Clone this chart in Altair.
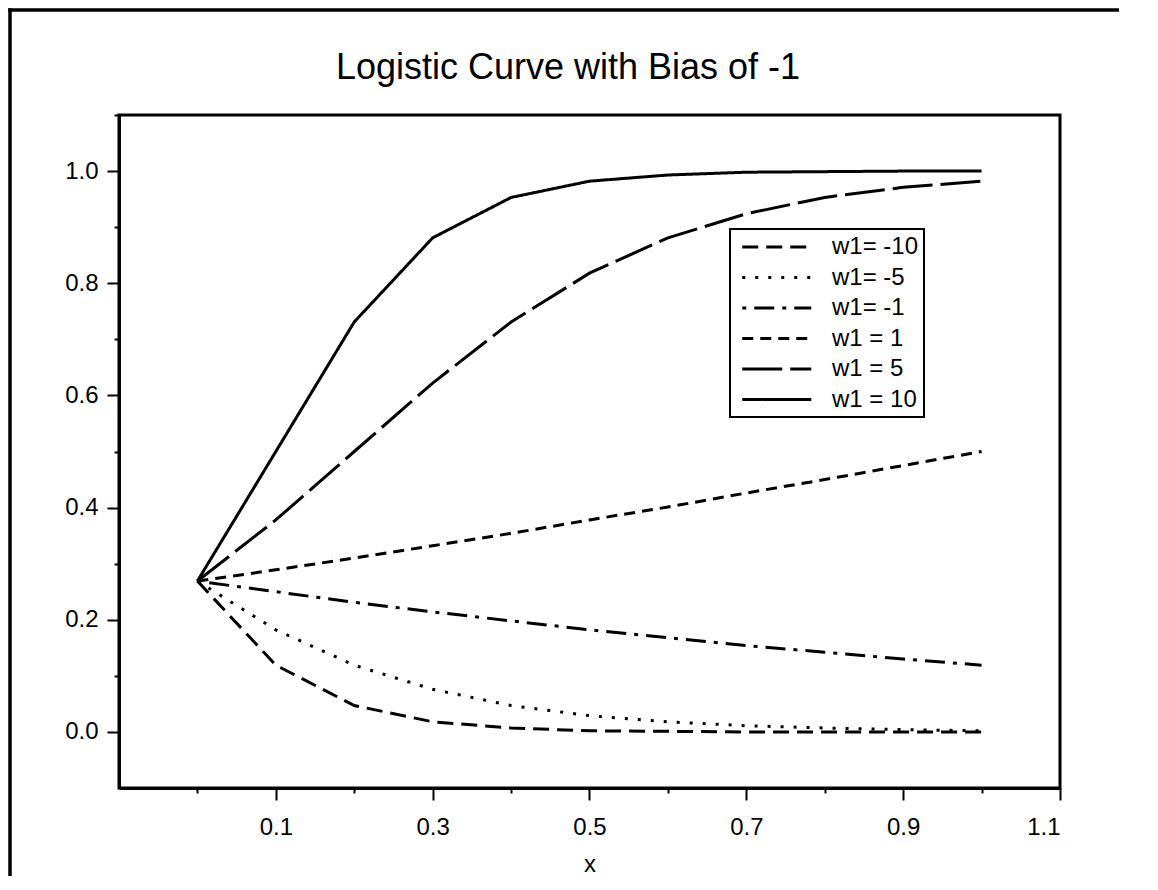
import altair as alt
import pandas as pd

# ---- data ----
x_vals = [0.0, 0.1, 0.2, 0.3, 0.4, 0.5, 0.6, 0.7, 0.8, 0.9, 1.0]
y_w_m10 = [0.269, 0.119, 0.047, 0.018, 0.007, 0.002, 0.001, 0.000, 0.000, 0.000, 0.000]
y_w_m5 = [0.269, 0.182, 0.119, 0.076, 0.047, 0.029, 0.018, 0.011, 0.007, 0.004, 0.002]
y_w_m1 = [0.269, 0.250, 0.231, 0.214, 0.198, 0.182, 0.168, 0.154, 0.142, 0.130, 0.119]
y_w_1 = [0.269, 0.289, 0.310, 0.332, 0.354, 0.378, 0.401, 0.426, 0.450, 0.475, 0.500]
y_w_5 = [0.269, 0.378, 0.500, 0.622, 0.731, 0.818, 0.881, 0.924, 0.953, 0.971, 0.982]
y_w_10 = [0.269, 0.500, 0.731, 0.881, 0.953, 0.982, 0.993, 0.998, 0.999, 1.000, 1.000]

series_labels = ["w1= -10", "w1= -5", "w1= -1", "w1 = 1", "w1 = 5", "w1 = 10"]
series_values = [y_w_m10, y_w_m5, y_w_m1, y_w_1, y_w_5, y_w_10]
dash_patterns = [[16, 8], [3, 10], [4, 8, 20, 8], [11, 7], [40, 8], [1, 0]]

x_ticks = [0.0, 0.1, 0.2, 0.3, 0.4, 0.5, 0.6, 0.7, 0.8, 0.9, 1.0, 1.1]
y_ticks = [0.0, 0.1, 0.2, 0.3, 0.4, 0.5, 0.6, 0.7, 0.8, 0.9, 1.0, 1.1]
title_text = "Logistic Curve with Bias of -1"

rows = []
for lab, ys in zip(series_labels, series_values):
    for xv, yv in zip(x_vals, ys):
        rows.append({"x": xv, "y": yv, "series": lab})
df = pd.DataFrame(rows)
one = pd.DataFrame({"a": [0]})

FONT = "Liberation Sans"

x_major = "round(datum.value*10) % 2 == 1"
y_major = "round(datum.value*10) % 2 == 0"

lines = alt.Chart(df).mark_line(color="black", strokeWidth=3).encode(
    x=alt.X(
        "x:Q",
        scale=alt.Scale(domain=[-0.1, 1.1], nice=False, zero=False),
        axis=alt.Axis(
            values=x_ticks,
            labelExpr=f"({x_major}) ? format(datum.value, '.1f') : ''",
            tickSize={"condition": {"test": x_major, "value": 12}, "value": 5},
            labelOverlap=False,
            labelPadding=15,
            title="x",
            titlePadding=13,
        ),
    ),
    y=alt.Y(
        "y:Q",
        scale=alt.Scale(domain=[-0.1, 1.1], nice=False, zero=False),
        axis=alt.Axis(
            values=y_ticks,
            labelExpr=f"({y_major}) ? format(datum.value, '.1f') : ''",
            tickSize={"condition": {"test": y_major, "value": 12}, "value": 5},
            labelOverlap=False,
            labelPadding=9,
            title=None,
        ),
    ),
    strokeDash=alt.StrokeDash(
        "series:N",
        scale=alt.Scale(domain=series_labels, range=dash_patterns),
        sort=series_labels,
        legend=alt.Legend(
            title=None,
            orient="none",
            legendX=611,
            legendY=114,
            symbolType="M -0.5 0 L 5.5 0",
            symbolSize=529,
            symbolStrokeWidth=3,
            symbolStrokeColor="black",
            symbolFillColor="transparent",
            labelFont=FONT,
            labelFontSize=24,
            labelColor="black",
            labelOffset=71,
            strokeColor="black",
            fillColor="white",
            padding=5,
            rowPadding=5.5,
            cornerRadius=0,
        ),
    ),
)

frame_top = alt.Chart(one).mark_rule(color="black", strokeWidth=3.5).encode(
    x=alt.value(-110.75), x2=alt.value(1000), y=alt.value(-105)
)
frame_left = alt.Chart(one).mark_rule(color="black", strokeWidth=3.5).encode(
    x=alt.value(-109), y=alt.value(-106.75), y2=alt.value(761)
)

title = alt.Chart(one).mark_text(
    font=FONT, fontSize=36, color="black", align="center", baseline="alphabetic"
).encode(
    x=alt.value(449), y=alt.value(-36), text=alt.value(title_text)
)

chart = alt.layer(frame_top, frame_left, title, lines).properties(
    width=941,
    height=673,
    autosize=alt.AutoSizeParams(type="none"),
    padding={"left": 111, "top": 107, "right": 89, "bottom": 88},
).configure_view(
    stroke="black", strokeWidth=3
).configure_axis(
    grid=False,
    labelFont=FONT,
    labelFontSize=24,
    labelColor="black",
    titleFont=FONT,
    titleFontSize=24,
    titleFontWeight="normal",
    titleColor="black",
    tickColor="black",
    tickWidth=2,
    domainColor="black",
    domainWidth=3,
).configure_legend(
    strokeWidth=2
)

chart.save("out.html", embed_options={"renderer": "svg", "actions": False})
